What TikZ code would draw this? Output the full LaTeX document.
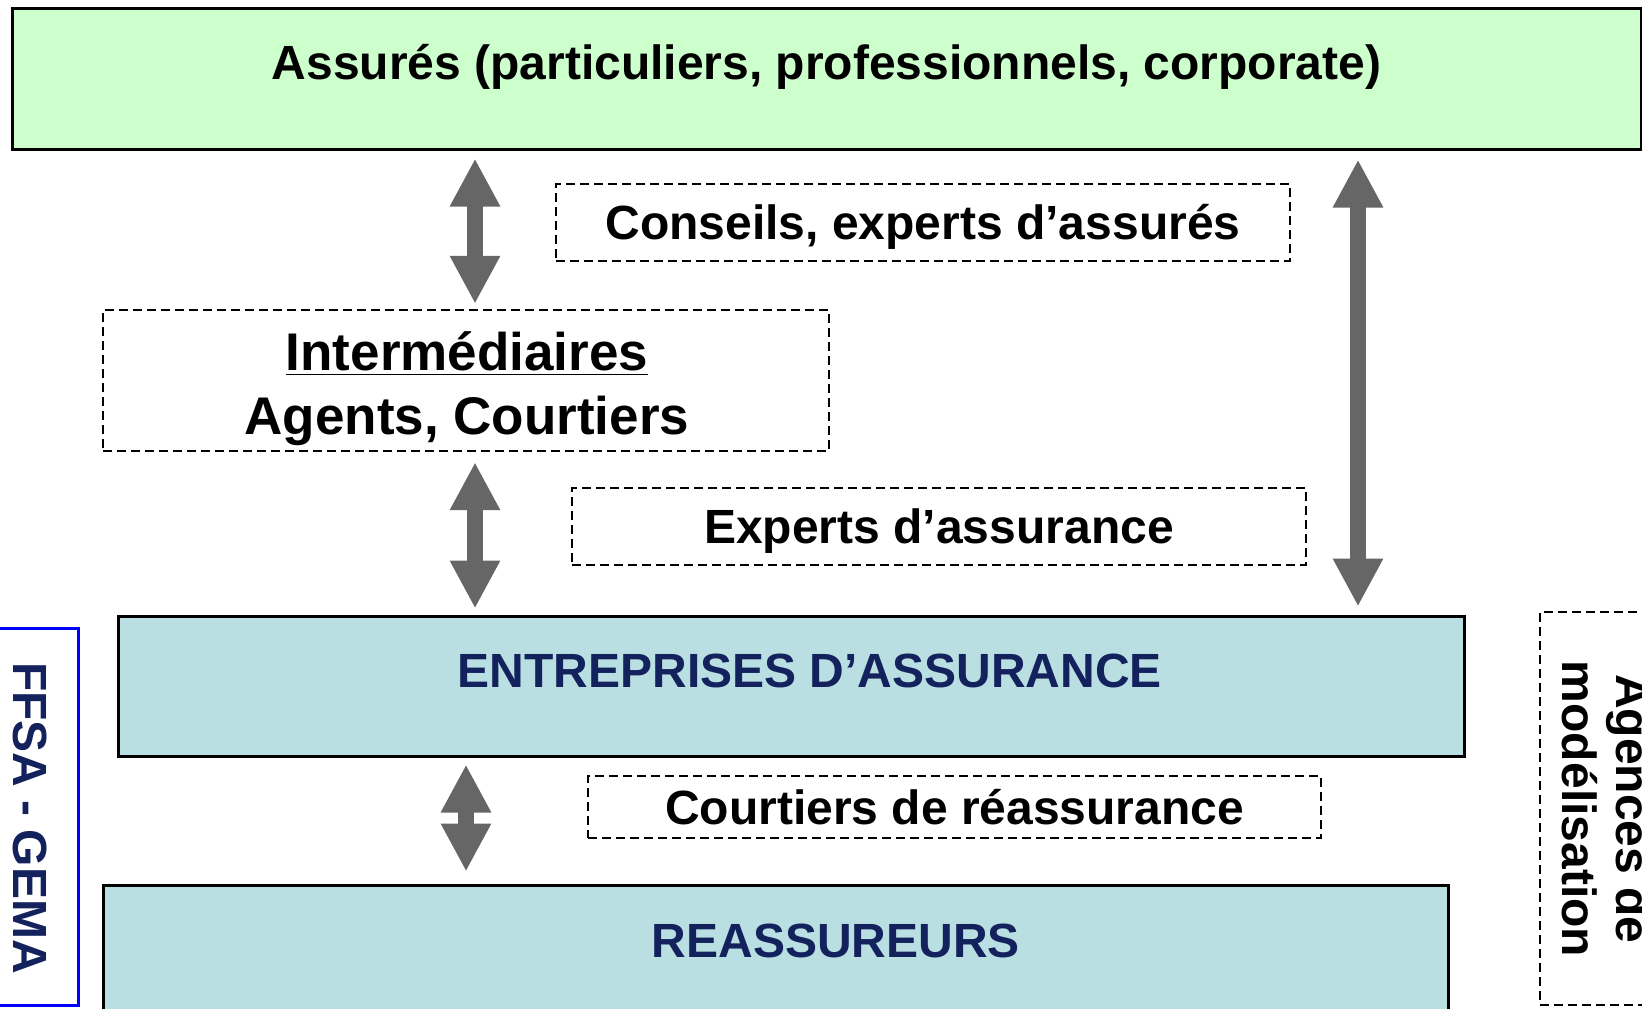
\documentclass[tikz,border=0pt]{standalone}
\usepackage{fontspec}
\setmainfont{Liberation Sans}
\usetikzlibrary{calc,positioning,fit,arrows.meta}
\definecolor{vert}{HTML}{CCFFCC}
\definecolor{bleuclair}{HTML}{B9DFE2}
\definecolor{marine}{HTML}{13215C}
\definecolor{gris}{HTML}{666666}
\tikzset{
  boite/.style={draw=black, line width=1.5pt, inner sep=0pt},
  pointille/.style={draw=black, line width=1.2pt, dash pattern=on 4.5pt off 2.5pt, inner sep=0pt},
  texte/.style={font=\fontsize{24}{28}\selectfont\bfseries, inner sep=0pt, text height=17pt, text depth=0pt},
  fleche/.style={draw=gris, line width=8pt, {Triangle[width=23.5pt,length=24pt]}-{Triangle[width=23.5pt,length=24pt]}}
}

\begin{document}
\begin{tikzpicture}[x=0.5pt,y=-0.5pt]
\path[use as bounding box, clip] (0,0) rectangle (1642,1008);

% boites pleines
\node[boite, fill=vert, fit={(12,8) (1641,149)}] (assures) {};
\node[boite, fill=bleuclair, fit={(118,616) (1464,756)}] (entreprises) {};
\node[boite, fill=bleuclair, fit={(103,885) (1448,1040)}] (reassureurs) {};

\node[texte] (assures-t) at ($(assures.north)+(0,56)$) {Assurés (particuliers, professionnels, corporate)};
\node[texte, text=marine] (entreprises-t) at ($(entreprises.north -| 810,0)+(0,56)$) {ENTREPRISES D’ASSURANCE};
\node[texte, text=marine] (reassureurs-t) at ($(reassureurs.north -| 836,0)+(0,57)$) {REASSUREURS};

% boites en pointille
\node[pointille, fit={(556,184) (1290,261)}] (conseils) {};
\node[pointille, fit={(103,310) (829,451)}] (inter) {};
\node[pointille, fit={(572,488) (1306,565)}] (experts) {};
\node[pointille, fit={(588,776) (1321,838)}] (courtiers) {};

\node[texte] (conseils-t) at (conseils.center) {Conseils, experts d’assurés};
\node[align=center, inner sep=0pt, font=\fontsize{26.5}{32}\selectfont\bfseries] (inter-t) at (467,389) {\underline{Intermédiaires}\\Agents, Courtiers};
\node[texte] (experts-t) at (experts.center) {Experts d’assurance};
\node[texte] (courtiers-t) at (courtiers.center) {Courtiers de réassurance};

% cotes gauche et droit
\node[draw=blue, line width=1.5pt, inner sep=0pt, fit={(-20,628) (78,1005)}] (ffsa) {};
\node[texte, text=marine, rotate=-90] (ffsa-t) at (30,818) {FFSA - GEMA};
\node[pointille, fit={(1540,612) (1700,1005)}] (agences) {};
\node[font=\fontsize{24}{27}\selectfont\bfseries, align=center, inner sep=0pt, rotate=-90] (agences-t) at (1607,809) {Agences de\\modélisation};

% fleches
\draw[fleche, shorten <=4pt, shorten >=2.5pt] (assures.south -| 475,0) -- (inter.north -| 475,0);
\draw[fleche, shorten <=5pt, shorten >=3pt] (inter.south -| 475,0) -- (entreprises.north -| 475,0);
\draw[fleche, shorten <=4.5pt, shorten >=4pt] (assures.south -| 1358,0) -- (entreprises.north -| 1358,0);
\draw[fleche, shorten <=3.5pt, shorten >=6pt] (entreprises.south -| 466,0) -- (reassureurs.north -| 466,0);

\end{tikzpicture}
\end{document}
